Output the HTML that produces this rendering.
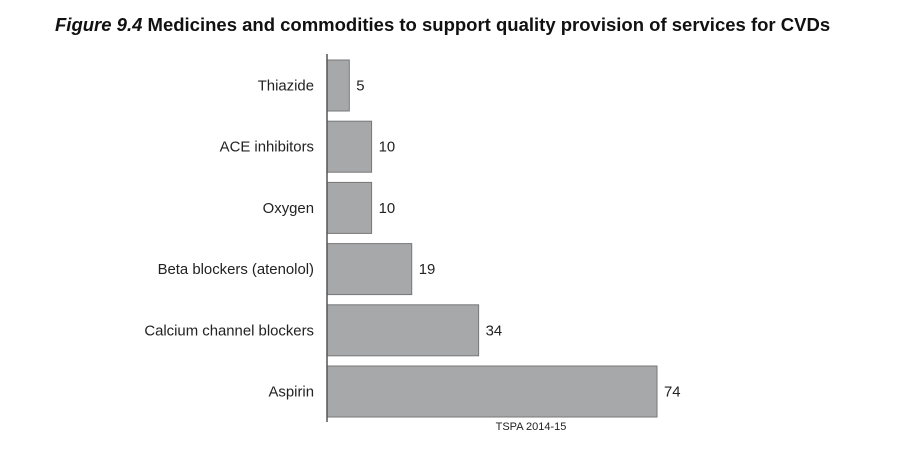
<!DOCTYPE html>
<html><head><meta charset="utf-8"><style>
body{margin:0;background:#fff;width:900px;height:450px;overflow:hidden;font-family:"Liberation Sans",sans-serif}
</style></head><body>
<svg width="900" height="450" xmlns="http://www.w3.org/2000/svg">
<text x="55" y="31" font-size="18.5" font-weight="bold" fill="#111"><tspan font-style="italic">Figure 9.4</tspan>  Medicines and commodities to support quality provision of services for CVDs</text>
<g id="bars"></g>
<line x1="327" y1="54" x2="327" y2="422" stroke="#555" stroke-width="1.5"/>
<text x="531" y="430" font-size="11" fill="#222" text-anchor="middle">TSPA 2014-15</text>
</svg>
<script>
const categories=["Thiazide","ACE inhibitors","Oxygen","Beta blockers (atenolol)","Calcium channel blockers","Aspirin"];
const values=[5,10,10,19,34,74];
const x0=327, k=(657-327)/74, top0=60, pitch=61.2, bh=51;
const xs=v=>x0+v*k;
const g=document.getElementById('bars');
const NS="http://www.w3.org/2000/svg";
categories.forEach((c,i)=>{
  const y=top0+i*pitch;
  const r=document.createElementNS(NS,'rect');
  r.setAttribute('x',x0);r.setAttribute('y',y);r.setAttribute('width',xs(values[i])-x0);r.setAttribute('height',bh);
  r.setAttribute('fill','#a7a8aa');r.setAttribute('stroke','#777');r.setAttribute('stroke-width','1');
  
  
  g.appendChild(r);
  const t=document.createElementNS(NS,'text');
  t.setAttribute('x',314);t.setAttribute('y',y+bh/2+5);t.setAttribute('text-anchor','end');
  t.setAttribute('font-size','14.9');t.setAttribute('fill','#222');t.textContent=c;
  
  
  g.appendChild(t);
  const v=document.createElementNS(NS,'text');
  v.setAttribute('x',xs(values[i])+7);v.setAttribute('y',y+bh/2+5);
  v.setAttribute('font-size','14.9');v.setAttribute('fill','#222');v.textContent=values[i];
  
  
  g.appendChild(v);
});
</script>
</body></html>
